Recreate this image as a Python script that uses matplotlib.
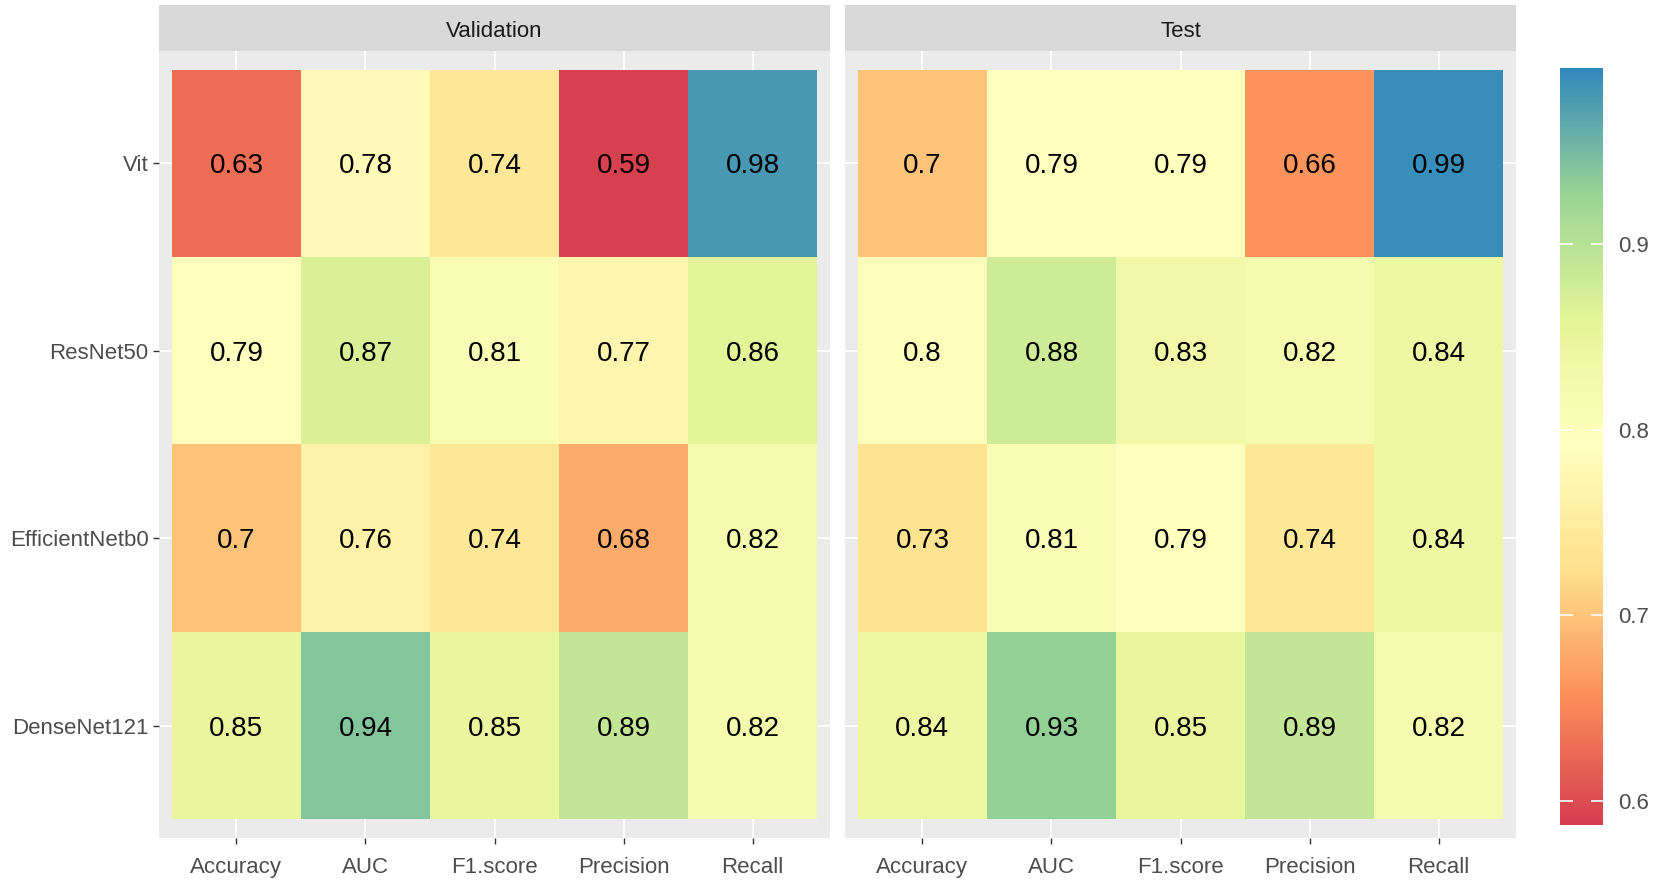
import numpy as np
import matplotlib
matplotlib.use("Agg")
import matplotlib.pyplot as plt
from matplotlib.colors import LinearSegmentedColormap, Normalize

models = ["Vit", "ResNet50", "EfficientNetb0", "DenseNet121"]
metrics = ["Accuracy", "AUC", "F1.score", "Precision", "Recall"]
facets = ["Validation", "Test"]

validation = [
    [0.63, 0.78, 0.74, 0.59, 0.98],
    [0.79, 0.87, 0.81, 0.77, 0.86],
    [0.70, 0.76, 0.74, 0.68, 0.82],
    [0.85, 0.94, 0.85, 0.89, 0.82],
]
test = [
    [0.70, 0.79, 0.79, 0.66, 0.99],
    [0.80, 0.88, 0.83, 0.82, 0.84],
    [0.73, 0.81, 0.79, 0.74, 0.84],
    [0.84, 0.93, 0.85, 0.89, 0.82],
]
colorbar_ticks = [0.6, 0.7, 0.8, 0.9]

plt.rcParams["font.family"] = ["Liberation Sans", "DejaVu Sans"]

spectral = ["#D53E4F", "#FC8D59", "#FEE08B", "#FFFFBF", "#E6F598", "#99D594", "#3288BD"]
cmap = LinearSegmentedColormap.from_list("spectral7", spectral)
norm = Normalize(vmin=0.587, vmax=0.995)

W, H = 1654, 883
fig = plt.figure(figsize=(W / 100, H / 100), dpi=100)

def fx(px):
    return px / W

def fy(top_px, bottom_px):
    return (H - bottom_px) / H, (bottom_px - top_px) / H

panel_lefts = [159, 845]
panel_w = 671
panel_top, panel_bot = 51, 838
strip_top = 5
AX_FS = 16
CELL_FS = 20

for k, (name, data) in enumerate(zip(facets, [validation, test])):
    left = panel_lefts[k]
    b, h = fy(panel_top, panel_bot)
    ax = fig.add_axes([fx(left), b, fx(panel_w), h])
    ax.set_facecolor("#EBEBEB")
    ax.set_xlim(0.4, len(metrics) + 0.6)
    ax.set_ylim(len(models) + 0.6, 0.4)
    xs = np.arange(1, len(metrics) + 1)
    ys = np.arange(1, len(models) + 1)
    for x in xs:
        ax.axvline(x, color="white", lw=1.3, zorder=0)
    for y in ys:
        ax.axhline(y, color="white", lw=1.3, zorder=0)
    arr = np.array(data)
    ax.pcolormesh(np.arange(0.5, len(metrics) + 1), np.arange(0.5, len(models) + 1),
                  arr, cmap=cmap, norm=norm, shading="flat", zorder=1)
    for i in range(len(models)):
        for j in range(len(metrics)):
            v = arr[i, j]
            ax.text(j + 1, i + 1, f"{v:g}", ha="center", va="center_baseline",
                    fontsize=CELL_FS, color="black", zorder=2)
    for s in ax.spines.values():
        s.set_visible(False)
    ax.set_xticks(xs)
    ax.set_xticklabels(metrics)
    ax.tick_params(axis="x", length=4.5, width=1, color="#333333",
                   labelsize=AX_FS, labelcolor="#4D4D4D", pad=9)
    if k == 0:
        ax.set_yticks(ys)
        ax.set_yticklabels(models)
        ax.tick_params(axis="y", length=4.5, width=1, color="#333333",
                       labelsize=AX_FS, labelcolor="#4D4D4D", pad=3)
    else:
        ax.set_yticks([])
    # strip
    sb, sh = fy(strip_top, panel_top)
    sax = fig.add_axes([fx(left), sb, fx(panel_w), sh])
    sax.set_facecolor("#D9D9D9")
    sax.set_xticks([])
    sax.set_yticks([])
    for s in sax.spines.values():
        s.set_visible(False)
    sax.text(0.5, 0.47, name, ha="center", va="center_baseline", fontsize=AX_FS,
             color="#1A1A1A", transform=sax.transAxes)

cb_b, cb_h = fy(68, 825)
cax = fig.add_axes([fx(1560), cb_b, fx(43), cb_h])
sm = matplotlib.cm.ScalarMappable(norm=norm, cmap=cmap)
cb = fig.colorbar(sm, cax=cax, ticks=colorbar_ticks)
cb.outline.set_visible(False)
cb.ax.set_yticklabels([f"{t:g}" for t in colorbar_ticks])
cax.yaxis.set_ticks_position("both")
cax.tick_params(axis="y", direction="in", length=9, width=1.2, color="white",
                labelsize=AX_FS, labelcolor="#4D4D4D", labelleft=False,
                labelright=True, pad=11)

fig.savefig("out.png", dpi=100)
